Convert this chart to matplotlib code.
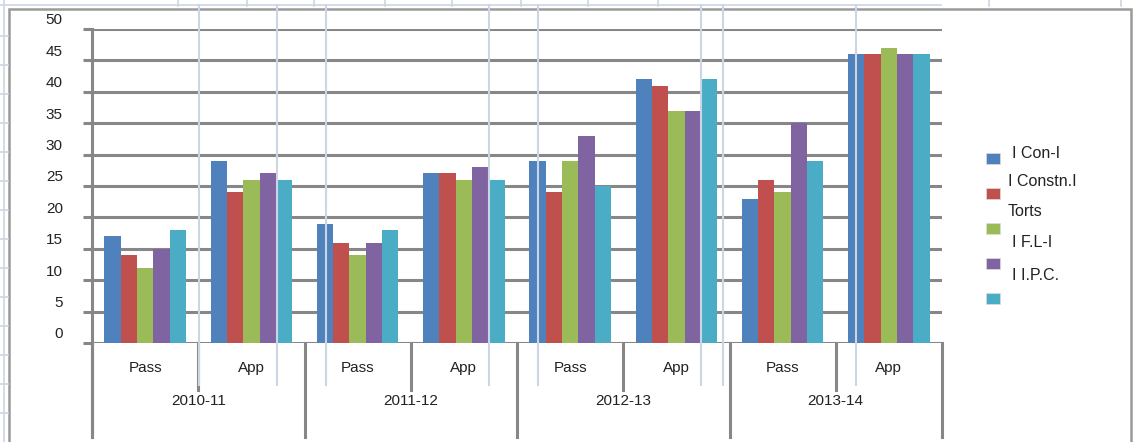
import numpy as np
import matplotlib
matplotlib.use("Agg")
import matplotlib.pyplot as plt
from matplotlib.lines import Line2D
from matplotlib.patches import Rectangle
import matplotlib.transforms as mtransforms

# data
years = ["2010-11", "2011-12", "2012-13", "2013-14"]
kinds = ["Pass", "App"]
categories = [k for y in years for k in kinds]

con_1 = [17, 29, 19, 27, 29, 42, 23, 46]
constn_1 = [14, 24, 16, 27, 24, 41, 26, 46]
fl_1 = [12, 26, 14, 26, 29, 37, 24, 47]
ipc_1 = [15, 27, 16, 28, 33, 37, 35, 46]
fifth = [18, 26, 18, 26, 25, 42, 29, 46]

series = [con_1, constn_1, fl_1, ipc_1, fifth]
colors = ["#4F81BD", "#C0504D", "#9BBB59", "#8064A2", "#4BACC6"]
legend_labels = ["I Con-I", "I Constn.I", "Torts", "I F.L-I", "I I.P.C."]
yticks = [0, 5, 10, 15, 20, 25, 30, 35, 40, 45, 50]

W, H = 1134, 442
plt.rcParams["font.family"] = ["Liberation Sans", "DejaVu Sans"]
fig = plt.figure(figsize=(W / 100, H / 100), dpi=100)
fig.patch.set_facecolor("white")

def fx(px):
    return px / W

def fy(py):
    return 1 - py / H

grey = "#878787"
cell = "#cbd5e4"

# spreadsheet cells peeking around the chart
for x in [178, 247, 314, 385, 452, 521, 588, 658, 989, 1121]:
    fig.add_artist(Line2D([fx(x), fx(x)], [fy(0), fy(6)], color=cell, lw=1.2))
fig.add_artist(Line2D([0, fx(941)], [fy(5), fy(5)], color=cell, lw=1.2))
fig.add_artist(Line2D([fx(4), fx(4)], [fy(0), fy(442)], color=cell, lw=1.2))
for y in np.arange(36, 442, 29):
    fig.add_artist(Line2D([0, fx(8)], [fy(y), fy(y)], color=cell, lw=1.2))

# chart frame
fig.add_artist(Rectangle((fx(9), fy(445)), fx(1131) - fx(9), fy(9) - fy(445),
                         transform=fig.transFigure, fill=False,
                         edgecolor="#9a9a9a", lw=1.8))

ax = fig.add_axes([fx(92), fy(343), fx(942) - fx(92), fy(29) - fy(343)])
x = np.arange(len(categories))
w = 1 / 6.5
for j, vals in enumerate(series):
    ax.bar(x + (j - 2) * w, vals, width=w, color=colors[j], zorder=3)

ax.set_xlim(-0.5, len(categories) - 0.5)
ax.set_ylim(0, 50)
for s in ax.spines.values():
    s.set_visible(False)
ax.set_yticks(yticks)
ax.set_yticklabels([])
ax.set_xticks([])
ax.tick_params(axis="y", length=6.5, width=2.2, color=grey, direction="out")
ax.grid(axis="y", color=grey, lw=2.2, zorder=1)
ax.set_axisbelow(True)

for v in yticks:
    ax.annotate(str(v), xy=(0, v), xycoords=("axes fraction", "data"),
                xytext=(-21, 6.2), textcoords="offset points",
                ha="right", va="center", fontsize=11, color="#222222")

# category axis with two levels
trans = mtransforms.blended_transform_factory(ax.transData, ax.transAxes)
ax.plot([-0.5, -0.5], [-0.30, 1], transform=trans, color=grey, lw=2.2,
        clip_on=False, zorder=4)
for i in range(len(categories) + 1):
    b = i - 0.5
    depth = -0.30 if i % 2 == 0 else -0.15
    ax.plot([b, b], [0, depth], transform=trans, color=grey, lw=2.2,
            clip_on=False)
for i, c in enumerate(categories):
    ax.annotate(c, xy=(i, 0), xycoords=("data", "axes fraction"),
                xytext=(0, -18), textcoords="offset points",
                ha="center", va="center", fontsize=11, color="#222222")
for k, yr in enumerate(years):
    ax.annotate(yr, xy=(2 * k + 0.5, 0), xycoords=("data", "axes fraction"),
                xytext=(0, -41.8), textcoords="offset points",
                ha="center", va="center", fontsize=11, color="#222222")

# spreadsheet gridlines showing through the chart
for xl in [199, 277, 326, 489, 538, 701, 723, 856]:
    fig.add_artist(Line2D([fx(xl), fx(xl)], [fy(5), fy(385)], color=cell,
                          lw=1.5, zorder=10))

# legend (markers and labels do not line up in the original)
for j, c in enumerate(colors):
    yy = 158 + 35 * j
    fig.add_artist(Rectangle((fx(986), fy(yy + 6)), fx(14), 11 / H,
                             transform=fig.transFigure, facecolor=c,
                             edgecolor="#dddddd", lw=0.5))
text_y = [153, 182, 211, 242, 276]
text_x = [1012, 1008, 1008, 1012, 1012]
for lab, tx, ty in zip(legend_labels, text_x, text_y):
    fig.text(fx(tx), fy(ty), lab, fontsize=11.5, ha="left", va="center",
             color="#222222")

fig.savefig("out.png", dpi=100, facecolor="white")
